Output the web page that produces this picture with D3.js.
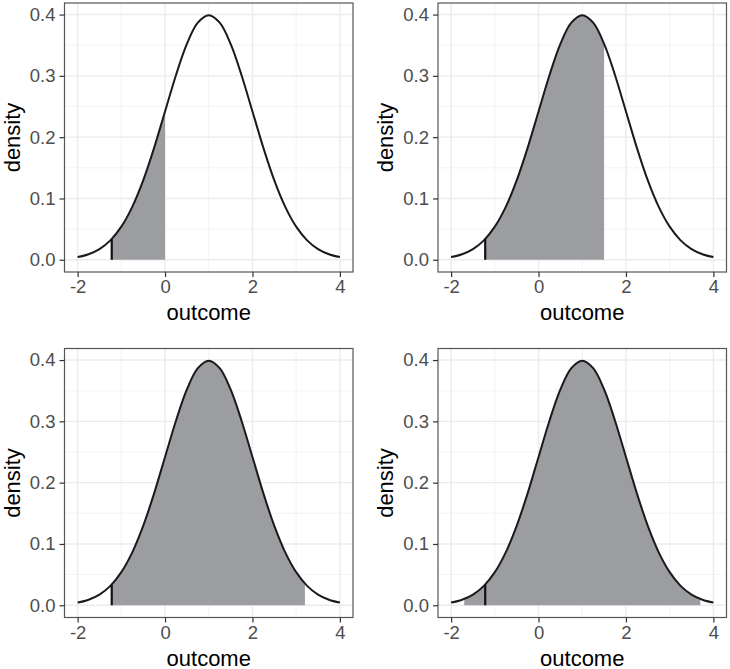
<!DOCTYPE html>
<html>
<head>
<meta charset="utf-8">
<script src="https://cdn.jsdelivr.net/npm/d3@7"></script>
<style>
  body { margin: 0; background: #fff; }
  text { font-family: "Liberation Sans", Arial, Helvetica, sans-serif; }
</style>
</head>
<body>
<div id="chart"></div>
<script>
// curve values
var outcome = [-2, -1.75, -1.5, -1.25, -1, -0.75, -0.5, -0.25, 0, 0.25, 0.5, 0.75, 1,
               1.25, 1.5, 1.75, 2, 2.25, 2.5, 2.75, 3, 3.25, 3.5, 3.75, 4]
var density = [0.0044, 0.0091, 0.0175, 0.0317, 0.0540, 0.0863, 0.1295, 0.1826, 0.2420, 0.3011, 0.3521, 0.3867, 0.3989,
               0.3867, 0.3521, 0.3011, 0.2420, 0.1826, 0.1295, 0.0863, 0.0540, 0.0317, 0.0175, 0.0091, 0.0044]

// shaded ranges, one per panel
var shadeFrom = [-1.22, -1.22, -1.22, -1.7]
var shadeTo = [0, 1.5, 3.2, 3.7]

// black marker segment
var markerX = -1.22
var markerY = 0.034

var xTicks = [-2, 0, 2, 4]
var xMinor = [-1, 1, 3]
var yTicks = [0, 0.1, 0.2, 0.3, 0.4]
var yMinor = [0.05, 0.15, 0.25, 0.35]

var width = 730
var height = 669
var colLeft = [64.5, 438]
var rowTop = [3, 348.5]
var pw = 288.5
var ph = 269

var svg = d3.select("#chart")
    .append("svg")
    .attr("width", width)
    .attr("height", height)

var pts = outcome.map(function(d, i) { return { x: d, y: density[i] } })

var x = d3.scaleLinear().domain([-2.3, 4.3]).range([0, pw])
var y = d3.scaleLinear().domain([-0.01995, 0.41885]).range([ph, 0])

shadeFrom.forEach(function(lo, i) {
    var g = svg.append("g")
        .attr("transform", "translate(" + colLeft[i % 2] + "," + rowTop[Math.floor(i / 2)] + ")")

    // grid
    g.selectAll(".xminor").data(xMinor).enter().append("line")
        .attr("x1", d => x(d)).attr("x2", d => x(d))
        .attr("y1", 0).attr("y2", ph)
        .attr("stroke", "#f0f0f0").attr("stroke-width", 0.8)
    g.selectAll(".yminor").data(yMinor).enter().append("line")
        .attr("y1", d => y(d)).attr("y2", d => y(d))
        .attr("x1", 0).attr("x2", pw)
        .attr("stroke", "#f0f0f0").attr("stroke-width", 0.8)
    g.selectAll(".xmajor").data(xTicks).enter().append("line")
        .attr("x1", d => x(d)).attr("x2", d => x(d))
        .attr("y1", 0).attr("y2", ph)
        .attr("stroke", "#ebebeb").attr("stroke-width", 1.4)
    g.selectAll(".ymajor").data(yTicks).enter().append("line")
        .attr("y1", d => y(d)).attr("y2", d => y(d))
        .attr("x1", 0).attr("x2", pw)
        .attr("stroke", "#ebebeb").attr("stroke-width", 1.4)

    // shaded area, clipped to its range
    var clipId = "clip" + i
    g.append("clipPath").attr("id", clipId)
        .append("rect")
        .attr("x", x(lo)).attr("width", x(shadeTo[i]) - x(lo))
        .attr("y", 0).attr("height", ph)

    var area = d3.area()
        .x(d => x(d.x))
        .y0(y(0))
        .y1(d => y(d.y))
        .curve(d3.curveCatmullRom)

    g.append("path")
        .datum(pts)
        .attr("clip-path", "url(#" + clipId + ")")
        .attr("fill", "#9c9da1")
        .attr("d", area)

    var line = d3.line()
        .x(d => x(d.x))
        .y(d => y(d.y))
        .curve(d3.curveCatmullRom)

    g.append("path")
        .datum(pts)
        .attr("fill", "none")
        .attr("stroke", "#1a1a1a")
        .attr("stroke-width", 2)
        .attr("d", line)

    g.append("line")
        .attr("x1", x(markerX)).attr("x2", x(markerX))
        .attr("y1", y(0)).attr("y2", y(markerY))
        .attr("stroke", "#111")
        .attr("stroke-width", 2.2)

    // border
    g.append("rect")
        .attr("width", pw).attr("height", ph)
        .attr("fill", "none")
        .attr("stroke", "#555")
        .attr("stroke-width", 1.2)

    // axes
    var xAxis = g.append("g")
        .attr("transform", "translate(0," + ph + ")")
        .call(d3.axisBottom(x).tickValues(xTicks).tickSize(5).tickPadding(3).tickFormat(d3.format("d")))
    var yAxis = g.append("g")
        .call(d3.axisLeft(y).tickValues(yTicks).tickSize(5).tickPadding(4).tickFormat(d3.format(".1f")))
    ;[xAxis, yAxis].forEach(function(a) {
        a.select(".domain").remove()
        a.selectAll("line").attr("stroke", "#333").attr("stroke-width", 1.2)
        a.selectAll("text")
            .attr("fill", "#4d4d4d")
            .style("font-size", "18.5px")
            .style("font-family", "'Liberation Sans', Arial, Helvetica, sans-serif")
    })
    xAxis.selectAll("text").text(d => d < 0 ? "-" + Math.abs(d) : d)

    g.append("text")
        .attr("x", pw / 2)
        .attr("y", ph + 48)
        .attr("text-anchor", "middle")
        .attr("fill", "#000")
        .style("font-size", "22px")
        .text("outcome")

    g.append("text")
        .attr("transform", "translate(" + (-45) + "," + (ph / 2) + ") rotate(-90)")
        .attr("text-anchor", "middle")
        .attr("fill", "#000")
        .style("font-size", "22px")
        .text("density")
})
</script>
</body>
</html>
